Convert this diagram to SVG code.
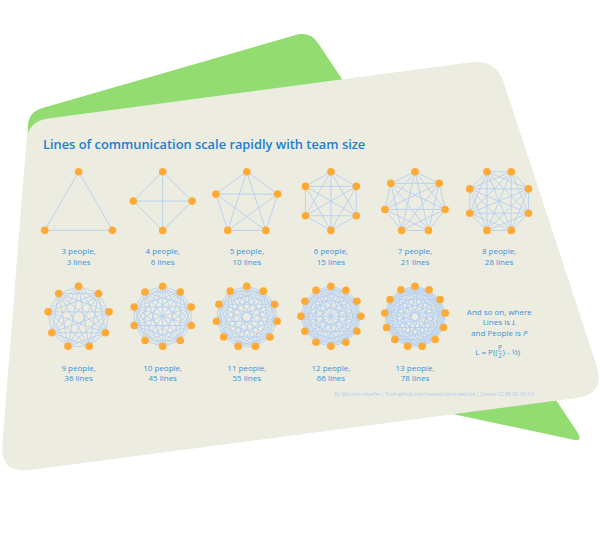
<svg xmlns="http://www.w3.org/2000/svg" width="600" height="537" viewBox="0 0 600 537">
<style>
.ln{fill:none;stroke:#b4cff2;stroke-width:0.9;stroke-linejoin:round}
.p{fill:#ffaa35}
.lbl{font-family:"Open Sans","Noto Sans",sans-serif;font-size:8px;fill:#3a93db;text-anchor:middle}
.title{font-family:"Open Sans","Noto Sans",sans-serif;font-size:12.85px;font-weight:600;fill:#1a7fd5}
.credit{font-family:"Open Sans","Noto Sans",sans-serif;font-size:4.8px;fill:#a9cdef}
</style>
<rect width="600" height="537" fill="#ffffff"/>
<g id="background">
<path d="M42.4 107.9L295.6 35.1Q310 31 318.3 43.5L577.3 432Q584 442 572.3 439.5L25 323L27.8 127Q28 112 42.4 107.9Z" fill="#92dc72"/>
<path d="M47.8 118.4L471.2 62.3Q496 59 503.8 82.8L596.6 365.5Q606 394 576.2 397.9L29.8 470Q0 474 2.4 444L26.4 141Q28 121 47.8 118.4Z" fill="#ecece0"/>
</g>
<text id="title" class="title" x="43" y="148.5">Lines of communication scale rapidly with team size</text>
<g id="connectors">
<path id="lines-3" class="ln" d="M78.6 171.7L112.46 230.35L44.74 230.35Z"/>
<path id="lines-4" class="ln" d="M162.7 171.7L192.1 201.1L162.7 230.5L133.3 201.1ZM162.7 171.7L162.7 230.5M133.3 201.1L192.1 201.1"/>
<path id="lines-5" class="ln" d="M246.8 171.7L277.66 194.12L265.87 230.4L227.73 230.4L215.94 194.12ZM246.8 171.7L265.87 230.4L215.94 194.12L277.66 194.12L227.73 230.4Z"/>
<path id="lines-6" class="ln" d="M330.9 171.7L356.32 186.38L356.32 215.73L330.9 230.4L305.48 215.73L305.48 186.38ZM330.9 171.7L356.32 215.73L305.48 215.73ZM356.32 186.38L330.9 230.4L305.48 186.38ZM330.9 171.7L330.9 230.4M356.32 186.38L305.48 215.73M356.32 215.73L305.48 186.38"/>
<path id="lines-7" class="ln" d="M415 171.7L439.14 183.33L445.11 209.45L428.4 230.4L401.6 230.4L384.89 209.45L390.86 183.33ZM415 171.7L445.11 209.45L401.6 230.4L390.86 183.33L439.14 183.33L428.4 230.4L384.89 209.45ZM415 171.7L428.4 230.4L390.86 183.33L445.11 209.45L384.89 209.45L439.14 183.33L401.6 230.4Z"/>
<path id="lines-8" class="ln" d="M511.26 171.7L528.45 188.89L528.45 213.21L511.26 230.4L486.94 230.4L469.75 213.21L469.75 188.89L486.94 171.7ZM511.26 171.7L528.45 213.21L486.94 230.4L469.75 188.89ZM528.45 188.89L511.26 230.4L469.75 213.21L486.94 171.7ZM511.26 171.7L511.26 230.4L469.75 188.89L528.45 188.89L486.94 230.4L486.94 171.7L528.45 213.21L469.75 213.21ZM511.26 171.7L486.94 230.4M528.45 188.89L469.75 213.21M528.45 213.21L469.75 188.89M511.26 230.4L486.94 171.7"/>
<path id="lines-9" class="ln" d="M78.6 286.3L98.48 293.54L109.06 311.86L105.39 332.7L89.18 346.3L68.02 346.3L51.81 332.7L48.14 311.86L58.72 293.54ZM78.6 286.3L109.06 311.86L89.18 346.3L51.81 332.7L58.72 293.54L98.48 293.54L105.39 332.7L68.02 346.3L48.14 311.86ZM78.6 286.3L105.39 332.7L51.81 332.7ZM98.48 293.54L89.18 346.3L48.14 311.86ZM109.06 311.86L68.02 346.3L58.72 293.54ZM78.6 286.3L89.18 346.3L58.72 293.54L105.39 332.7L48.14 311.86L109.06 311.86L51.81 332.7L98.48 293.54L68.02 346.3Z"/>
<path id="lines-10" class="ln" d="M162.7 286.3L180.33 292.03L191.23 307.03L191.23 325.57L180.33 340.57L162.7 346.3L145.07 340.57L134.17 325.57L134.17 307.03L145.07 292.03ZM162.7 286.3L191.23 307.03L180.33 340.57L145.07 340.57L134.17 307.03ZM180.33 292.03L191.23 325.57L162.7 346.3L134.17 325.57L145.07 292.03ZM162.7 286.3L191.23 325.57L145.07 340.57L145.07 292.03L191.23 307.03L162.7 346.3L134.17 307.03L180.33 292.03L180.33 340.57L134.17 325.57ZM162.7 286.3L180.33 340.57L134.17 307.03L191.23 307.03L145.07 340.57ZM180.33 292.03L162.7 346.3L145.07 292.03L191.23 325.57L134.17 325.57ZM162.7 286.3L162.7 346.3M180.33 292.03L145.07 340.57M191.23 307.03L134.17 325.57M191.23 325.57L134.17 307.03M180.33 340.57L145.07 292.03"/>
<path id="lines-11" class="ln" d="M246.8 286.3L263.35 291.16L274.65 304.2L277.11 321.28L269.94 336.97L255.43 346.3L238.17 346.3L223.66 336.97L216.49 321.28L218.95 304.2L230.25 291.16ZM246.8 286.3L274.65 304.2L269.94 336.97L238.17 346.3L216.49 321.28L230.25 291.16L263.35 291.16L277.11 321.28L255.43 346.3L223.66 336.97L218.95 304.2ZM246.8 286.3L277.11 321.28L238.17 346.3L218.95 304.2L263.35 291.16L269.94 336.97L223.66 336.97L230.25 291.16L274.65 304.2L255.43 346.3L216.49 321.28ZM246.8 286.3L269.94 336.97L216.49 321.28L263.35 291.16L255.43 346.3L218.95 304.2L274.65 304.2L238.17 346.3L230.25 291.16L277.11 321.28L223.66 336.97ZM246.8 286.3L255.43 346.3L230.25 291.16L269.94 336.97L218.95 304.2L277.11 321.28L216.49 321.28L274.65 304.2L223.66 336.97L263.35 291.16L238.17 346.3Z"/>
<path id="lines-12" class="ln" d="M330.9 286.3L345.9 290.32L356.88 301.3L360.9 316.3L356.88 331.3L345.9 342.28L330.9 346.3L315.9 342.28L304.92 331.3L300.9 316.3L304.92 301.3L315.9 290.32ZM330.9 286.3L356.88 301.3L356.88 331.3L330.9 346.3L304.92 331.3L304.92 301.3ZM345.9 290.32L360.9 316.3L345.9 342.28L315.9 342.28L300.9 316.3L315.9 290.32ZM330.9 286.3L360.9 316.3L330.9 346.3L300.9 316.3ZM345.9 290.32L356.88 331.3L315.9 342.28L304.92 301.3ZM356.88 301.3L345.9 342.28L304.92 331.3L315.9 290.32ZM330.9 286.3L356.88 331.3L304.92 331.3ZM345.9 290.32L345.9 342.28L300.9 316.3ZM356.88 301.3L330.9 346.3L304.92 301.3ZM360.9 316.3L315.9 342.28L315.9 290.32ZM330.9 286.3L345.9 342.28L304.92 301.3L360.9 316.3L304.92 331.3L345.9 290.32L330.9 346.3L315.9 290.32L356.88 331.3L300.9 316.3L356.88 301.3L315.9 342.28ZM330.9 286.3L330.9 346.3M345.9 290.32L315.9 342.28M356.88 301.3L304.92 331.3M360.9 316.3L300.9 316.3M356.88 331.3L304.92 301.3M345.9 342.28L315.9 290.32"/>
<path id="lines-13" class="ln" d="M415 286.3L429.15 289.79L440.05 299.45L445.22 313.07L443.46 327.53L435.18 339.52L422.28 346.29L407.72 346.29L394.82 339.52L386.54 327.53L384.78 313.07L389.95 299.45L400.85 289.79ZM415 286.3L440.05 299.45L443.46 327.53L422.28 346.29L394.82 339.52L384.78 313.07L400.85 289.79L429.15 289.79L445.22 313.07L435.18 339.52L407.72 346.29L386.54 327.53L389.95 299.45ZM415 286.3L445.22 313.07L422.28 346.29L386.54 327.53L400.85 289.79L440.05 299.45L435.18 339.52L394.82 339.52L389.95 299.45L429.15 289.79L443.46 327.53L407.72 346.29L384.78 313.07ZM415 286.3L443.46 327.53L394.82 339.52L400.85 289.79L445.22 313.07L407.72 346.29L389.95 299.45L440.05 299.45L422.28 346.29L384.78 313.07L429.15 289.79L435.18 339.52L386.54 327.53ZM415 286.3L435.18 339.52L384.78 313.07L440.05 299.45L407.72 346.29L400.85 289.79L443.46 327.53L386.54 327.53L429.15 289.79L422.28 346.29L389.95 299.45L445.22 313.07L394.82 339.52ZM415 286.3L422.28 346.29L400.85 289.79L435.18 339.52L389.95 299.45L443.46 327.53L384.78 313.07L445.22 313.07L386.54 327.53L440.05 299.45L394.82 339.52L429.15 289.79L407.72 346.29Z"/>
</g>
<g id="team-3">
<circle class="p" cx="78.6" cy="171.7" r="3.8"/><circle class="p" cx="112.46" cy="230.35" r="3.8"/><circle class="p" cx="44.74" cy="230.35" r="3.8"/>
<text class="lbl" x="78.6" y="254.3">3 people,<tspan x="78.6" dy="10.5">3 lines</tspan></text>
</g>
<g id="team-4">
<circle class="p" cx="162.7" cy="171.7" r="3.8"/><circle class="p" cx="192.1" cy="201.1" r="3.8"/><circle class="p" cx="162.7" cy="230.5" r="3.8"/><circle class="p" cx="133.3" cy="201.1" r="3.8"/>
<text class="lbl" x="162.7" y="254.3">4 people,<tspan x="162.7" dy="10.5">6 lines</tspan></text>
</g>
<g id="team-5">
<circle class="p" cx="246.8" cy="171.7" r="3.8"/><circle class="p" cx="277.66" cy="194.12" r="3.8"/><circle class="p" cx="265.87" cy="230.4" r="3.8"/><circle class="p" cx="227.73" cy="230.4" r="3.8"/><circle class="p" cx="215.94" cy="194.12" r="3.8"/>
<text class="lbl" x="246.8" y="254.3">5 people,<tspan x="246.8" dy="10.5">10 lines</tspan></text>
</g>
<g id="team-6">
<circle class="p" cx="330.9" cy="171.7" r="3.8"/><circle class="p" cx="356.32" cy="186.38" r="3.8"/><circle class="p" cx="356.32" cy="215.73" r="3.8"/><circle class="p" cx="330.9" cy="230.4" r="3.8"/><circle class="p" cx="305.48" cy="215.73" r="3.8"/><circle class="p" cx="305.48" cy="186.38" r="3.8"/>
<text class="lbl" x="330.9" y="254.3">6 people,<tspan x="330.9" dy="10.5">15 lines</tspan></text>
</g>
<g id="team-7">
<circle class="p" cx="415" cy="171.7" r="3.8"/><circle class="p" cx="439.14" cy="183.33" r="3.8"/><circle class="p" cx="445.11" cy="209.45" r="3.8"/><circle class="p" cx="428.4" cy="230.4" r="3.8"/><circle class="p" cx="401.6" cy="230.4" r="3.8"/><circle class="p" cx="384.89" cy="209.45" r="3.8"/><circle class="p" cx="390.86" cy="183.33" r="3.8"/>
<text class="lbl" x="415" y="254.3">7 people,<tspan x="415" dy="10.5">21 lines</tspan></text>
</g>
<g id="team-8">
<circle class="p" cx="511.26" cy="171.7" r="3.8"/><circle class="p" cx="528.45" cy="188.89" r="3.8"/><circle class="p" cx="528.45" cy="213.21" r="3.8"/><circle class="p" cx="511.26" cy="230.4" r="3.8"/><circle class="p" cx="486.94" cy="230.4" r="3.8"/><circle class="p" cx="469.75" cy="213.21" r="3.8"/><circle class="p" cx="469.75" cy="188.89" r="3.8"/><circle class="p" cx="486.94" cy="171.7" r="3.8"/>
<text class="lbl" x="499.1" y="254.3">8 people,<tspan x="499.1" dy="10.5">28 lines</tspan></text>
</g>
<g id="team-9">
<circle class="p" cx="78.6" cy="286.3" r="3.8"/><circle class="p" cx="98.48" cy="293.54" r="3.8"/><circle class="p" cx="109.06" cy="311.86" r="3.8"/><circle class="p" cx="105.39" cy="332.7" r="3.8"/><circle class="p" cx="89.18" cy="346.3" r="3.8"/><circle class="p" cx="68.02" cy="346.3" r="3.8"/><circle class="p" cx="51.81" cy="332.7" r="3.8"/><circle class="p" cx="48.14" cy="311.86" r="3.8"/><circle class="p" cx="58.72" cy="293.54" r="3.8"/>
<text class="lbl" x="78.6" y="370.7">9 people,<tspan x="78.6" dy="10.5">36 lines</tspan></text>
</g>
<g id="team-10">
<circle class="p" cx="162.7" cy="286.3" r="3.8"/><circle class="p" cx="180.33" cy="292.03" r="3.8"/><circle class="p" cx="191.23" cy="307.03" r="3.8"/><circle class="p" cx="191.23" cy="325.57" r="3.8"/><circle class="p" cx="180.33" cy="340.57" r="3.8"/><circle class="p" cx="162.7" cy="346.3" r="3.8"/><circle class="p" cx="145.07" cy="340.57" r="3.8"/><circle class="p" cx="134.17" cy="325.57" r="3.8"/><circle class="p" cx="134.17" cy="307.03" r="3.8"/><circle class="p" cx="145.07" cy="292.03" r="3.8"/>
<text class="lbl" x="162.7" y="370.7">10 people,<tspan x="162.7" dy="10.5">45 lines</tspan></text>
</g>
<g id="team-11">
<circle class="p" cx="246.8" cy="286.3" r="3.8"/><circle class="p" cx="263.35" cy="291.16" r="3.8"/><circle class="p" cx="274.65" cy="304.2" r="3.8"/><circle class="p" cx="277.11" cy="321.28" r="3.8"/><circle class="p" cx="269.94" cy="336.97" r="3.8"/><circle class="p" cx="255.43" cy="346.3" r="3.8"/><circle class="p" cx="238.17" cy="346.3" r="3.8"/><circle class="p" cx="223.66" cy="336.97" r="3.8"/><circle class="p" cx="216.49" cy="321.28" r="3.8"/><circle class="p" cx="218.95" cy="304.2" r="3.8"/><circle class="p" cx="230.25" cy="291.16" r="3.8"/>
<text class="lbl" x="246.8" y="370.7">11 people,<tspan x="246.8" dy="10.5">55 lines</tspan></text>
</g>
<g id="team-12">
<circle class="p" cx="330.9" cy="286.3" r="3.8"/><circle class="p" cx="345.9" cy="290.32" r="3.8"/><circle class="p" cx="356.88" cy="301.3" r="3.8"/><circle class="p" cx="360.9" cy="316.3" r="3.8"/><circle class="p" cx="356.88" cy="331.3" r="3.8"/><circle class="p" cx="345.9" cy="342.28" r="3.8"/><circle class="p" cx="330.9" cy="346.3" r="3.8"/><circle class="p" cx="315.9" cy="342.28" r="3.8"/><circle class="p" cx="304.92" cy="331.3" r="3.8"/><circle class="p" cx="300.9" cy="316.3" r="3.8"/><circle class="p" cx="304.92" cy="301.3" r="3.8"/><circle class="p" cx="315.9" cy="290.32" r="3.8"/>
<text class="lbl" x="330.9" y="370.7">12 people,<tspan x="330.9" dy="10.5">66 lines</tspan></text>
</g>
<g id="team-13">
<circle class="p" cx="415" cy="286.3" r="3.8"/><circle class="p" cx="429.15" cy="289.79" r="3.8"/><circle class="p" cx="440.05" cy="299.45" r="3.8"/><circle class="p" cx="445.22" cy="313.07" r="3.8"/><circle class="p" cx="443.46" cy="327.53" r="3.8"/><circle class="p" cx="435.18" cy="339.52" r="3.8"/><circle class="p" cx="422.28" cy="346.29" r="3.8"/><circle class="p" cx="407.72" cy="346.29" r="3.8"/><circle class="p" cx="394.82" cy="339.52" r="3.8"/><circle class="p" cx="386.54" cy="327.53" r="3.8"/><circle class="p" cx="384.78" cy="313.07" r="3.8"/><circle class="p" cx="389.95" cy="299.45" r="3.8"/><circle class="p" cx="400.85" cy="289.79" r="3.8"/>
<text class="lbl" x="415" y="370.7">13 people,<tspan x="415" dy="10.5">78 lines</tspan></text>
</g>
<g id="formula-note">
<text class="lbl" x="499.3" y="315">And so on, where</text>
<text class="lbl" x="499.3" y="325.3">Lines is <tspan font-style="italic">L</tspan></text>
<text class="lbl" x="499.3" y="335.6">and People is <tspan font-style="italic">P</tspan></text>
<text class="lbl" x="497.6" y="354.5" style="text-anchor:end">L = P((</text>
<text class="lbl" x="500" y="349.6" style="font-size:6.5px">P</text>
<line x1="497.9" y1="351.2" x2="502.1" y2="351.2" stroke="#3a93db" stroke-width="0.45"/>
<text class="lbl" x="500" y="357.8" style="font-size:6.5px">2</text>
<text class="lbl" x="502.6" y="354.5" style="text-anchor:start">) - ½)</text>
</g>
<text id="credit" class="credit" x="334.6" y="395.5">By @austin-schaefer | From github.com/newrelic/docs-website | License CC BY NC SA 4.0</text>
</svg>
